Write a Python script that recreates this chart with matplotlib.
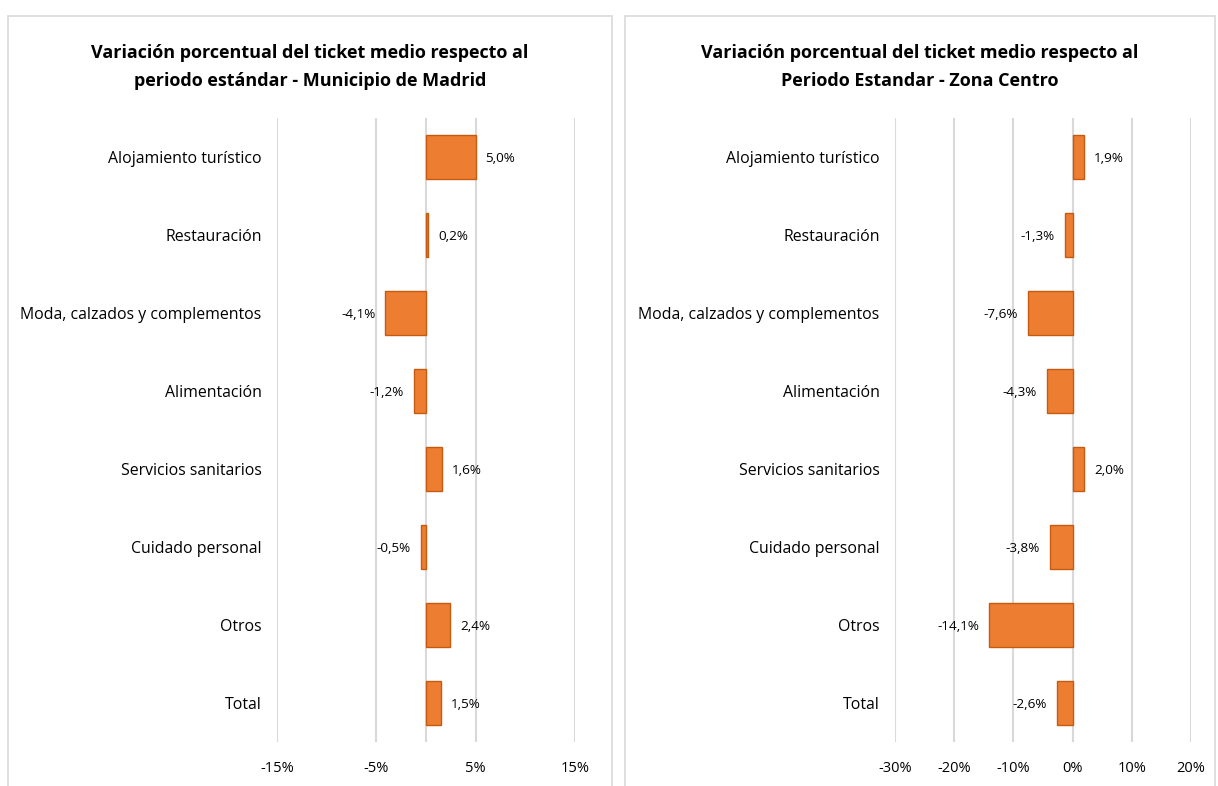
import matplotlib.pyplot as plt
from matplotlib.patches import Rectangle

categorias = ['Alojamiento turístico', 'Restauración', 'Moda, calzados y complementos',
              'Alimentación', 'Servicios sanitarios', 'Cuidado personal', 'Otros', 'Total']
madrid = [5.0, 0.2, -4.1, -1.2, 1.6, -0.5, 2.4, 1.5]
centro = [1.9, -1.3, -7.6, -4.3, 2.0, -3.8, -14.1, -2.6]

titulo_madrid = 'Variación porcentual del ticket medio respecto al\nperiodo estándar - Municipio de Madrid'
titulo_centro = 'Variación porcentual del ticket medio respecto al\nPeriodo Estandar - Zona Centro'

ticks_madrid = [-15, -5, 5, 15]
ticks_centro = [-30, -20, -10, 0, 10, 20]

W, H = 1218, 786
FONT = ['Open Sans', 'DejaVu Sans']
plt.rcParams['font.family'] = FONT

fig = plt.figure(figsize=(W / 100, H / 100), dpi=100)
fig.set_facecolor('white')

# panel frames (pixel coords -> figure fraction)
def px_rect(x0, y0, x1, y1):
    return Rectangle((x0 / W, 1 - y1 / H), (x1 - x0) / W, (y1 - y0) / H,
                     transform=fig.transFigure, fill=False, edgecolor='#D9D9D9', lw=1.2)

fig.patches.append(px_rect(8, 16, 612, 800))
fig.patches.append(px_rect(625, 16, 1215, 800))


def panel(x0, x1, valores, xlim, ticks, titulo, cx):
    ax = fig.add_axes([x0 / W, 1 - 742 / H, (x1 - x0) / W, (742 - 118) / H])
    y = list(range(len(categorias)))
    ax.barh(y, valores, height=0.56, color='#ED7D31', edgecolor='#C55A11', lw=1, zorder=3)
    for g in ticks:
        ax.axvline(g, color='#D9D9D9', lw=1.5, zorder=1)
    ax.axvline(0, color='#D9D9D9', lw=1.5, zorder=1)
    ax.set_xlim(*xlim)
    ax.set_ylim(len(categorias) - 0.5, -0.5)
    ax.set_xticks(ticks)
    ax.set_xticklabels([f'{t}%' for t in ticks], fontsize=10.5)
    ax.set_yticks(y)
    ax.set_yticklabels(categorias, fontsize=11.4)
    ax.tick_params(length=0, pad=11)
    ax.tick_params(axis='x', pad=14)
    for s in ax.spines.values():
        s.set_visible(False)
    for yi, v in zip(y, valores):
        txt = f'{v:.1f}%'.replace('.', ',')
        off = 10 if v >= 0 else -10
        ax.annotate(txt, (v, yi), xytext=(off, -1), textcoords='offset pixels',
                    ha='left' if v >= 0 else 'right', va='center', fontsize=9.7)
    fig.text(cx / W, 1 - 67 / H, titulo, ha='center', va='center', fontsize=13,
             fontweight='bold', linespacing=1.7)
    return ax


panel(277, 575, madrid, (-15, 15), ticks_madrid, titulo_madrid, 310)
panel(895, 1191, centro, (-30, 20), ticks_centro, titulo_centro, 920)

fig.savefig('out.png', dpi=100, facecolor='white')
